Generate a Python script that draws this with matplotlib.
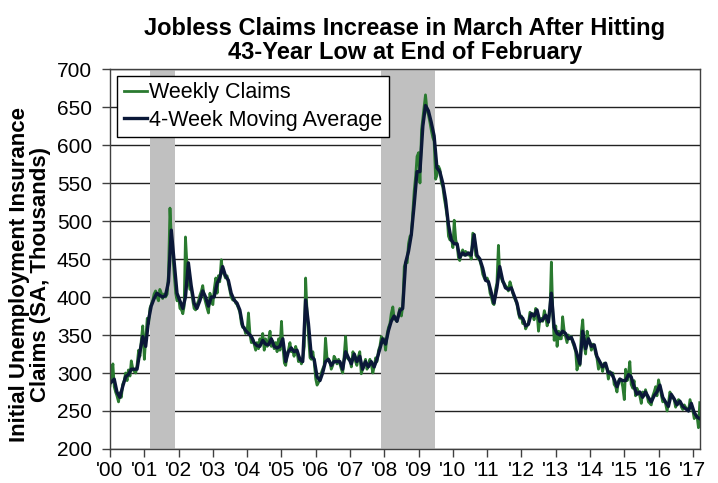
import pandas as pd
import matplotlib
matplotlib.use('Agg')
import matplotlib.pyplot as plt
import matplotlib.dates as mdates

# weekly initial claims (SA, thousands) (1st, 15th)
weekly_claims = [
    283, 298, 312, 282, 275, 270, 262, 274, 268, 285, 290, 300, 290, 304, 296, 316, 305, 302, 300, 310, 330, 322, 345, 362,  # 2000
    318, 345, 372, 365, 385, 390, 396, 404, 408, 400, 395, 410, 405, 398, 404, 400, 404, 430, 517, 480, 455, 430, 405, 395,  # 2001
    400, 385, 383, 378, 388, 479, 440, 425, 410, 412, 395, 385, 383, 390, 395, 402, 408, 415, 400, 393, 385, 379, 405, 395,  # 2002
    390, 410, 425, 405, 428, 420, 449, 432, 430, 425, 428, 418, 408, 400, 396, 398, 392, 390, 385, 380, 365, 360, 360, 352,  # 2003
    355, 379, 350, 340, 345, 338, 330, 340, 332, 345, 340, 352, 330, 345, 335, 342, 355, 335, 342, 332, 340, 328, 345, 330,  # 2004
    368, 335, 313, 310, 325, 330, 340, 328, 330, 322, 335, 328, 315, 320, 312, 318, 335, 425, 378, 350, 320, 318, 328, 315,  # 2005
    292, 284, 288, 292, 300, 305, 310, 346, 320, 318, 315, 305, 310, 322, 318, 312, 318, 312, 305, 300, 325, 348, 320, 318,  # 2006
    318, 308, 328, 322, 315, 310, 322, 328, 299, 305, 312, 318, 305, 310, 318, 312, 300, 308, 320, 315, 330, 335, 348, 340,  # 2007
    345, 330, 352, 360, 365, 378, 387, 372, 370, 368, 378, 385, 375, 387, 440, 445, 445, 470, 480, 482, 515, 540, 560, 585,  # 2008
    590, 550, 620, 635, 650, 666, 645, 640, 630, 620, 610, 605, 555, 560, 572, 568, 550, 545, 530, 520, 505, 480, 475, 478,  # 2009
    465, 501, 475, 468, 452, 448, 457, 462, 455, 460, 458, 455, 458, 450, 484, 482, 455, 452, 450, 448, 440, 430, 425, 422,  # 2010
    425, 420, 405, 400, 392, 390, 410, 418, 468, 430, 425, 420, 418, 415, 412, 408, 420, 414, 405, 400, 395, 390, 378, 372,  # 2011
    375, 365, 368, 358, 362, 365, 380, 378, 378, 370, 385, 380, 355, 370, 372, 368, 382, 375, 362, 370, 385, 446, 375, 343,  # 2012
    362, 335, 355, 345, 345, 374, 355, 348, 340, 350, 345, 348, 340, 335, 328, 304, 315, 310, 355, 370, 335, 325, 355, 345,  # 2013
    340, 330, 338, 335, 325, 320, 305, 312, 310, 302, 313, 310, 305, 292, 302, 298, 300, 285, 282, 275, 290, 292, 290, 282,  # 2014
    265, 305, 290, 300, 315, 285, 280, 290, 270, 280, 275, 270, 260, 275, 270, 278, 270, 262, 260, 258, 270, 275, 282, 270,  # 2015
    291, 282, 270, 262, 265, 260, 250, 260, 275, 270, 268, 265, 255, 262, 265, 262, 255, 252, 258, 255, 252, 250, 265, 258,  # 2016
    250, 240, 245, 242, 228, 261,                                                                                          # 2017
]

# 4-week moving average, one reading per month (mid-month)
moving_avg = [
    288, 292, 275, 268, 282, 295, 298, 305, 305, 305, 328, 348,  # 2000
    335, 370, 388, 398, 405, 402, 400, 402, 420, 488, 445, 405,  # 2001
    395, 385, 400, 445, 415, 392, 385, 395, 408, 400, 388, 400,  # 2002
    400, 418, 425, 440, 428, 422, 405, 396, 392, 383, 362, 356,  # 2003
    352, 348, 340, 336, 335, 343, 338, 337, 345, 335, 333, 335,  # 2004
    345, 315, 328, 333, 328, 330, 318, 315, 396, 365, 322, 318,  # 2005
    295, 290, 300, 315, 318, 310, 315, 315, 315, 305, 328, 320,  # 2006
    312, 325, 315, 322, 305, 315, 308, 315, 308, 318, 332, 345,  # 2007
    338, 356, 368, 375, 368, 382, 385, 445, 460, 482, 522, 565,  # 2008
    565, 625, 652, 645, 630, 612, 570, 565, 550, 528, 495, 475,  # 2009
    470, 470, 452, 458, 455, 458, 455, 482, 455, 450, 438, 422,  # 2010
    420, 405, 392, 412, 440, 422, 412, 410, 412, 402, 392, 375,  # 2011
    372, 362, 364, 378, 375, 383, 368, 370, 376, 367, 405, 360,  # 2012
    352, 350, 355, 352, 345, 347, 338, 325, 312, 355, 332, 345,  # 2013
    335, 337, 322, 315, 308, 313, 300, 300, 292, 282, 292, 290,  # 2014
    290, 298, 295, 282, 272, 275, 268, 275, 268, 262, 270, 275,  # 2015
    284, 268, 262, 256, 272, 266, 258, 263, 256, 253, 250, 260,  # 2016
    248, 242, 240,                                               # 2017
]

# recession shading (NBER)
recession_start = ['2001-03-01', '2007-12-01']
recession_end = ['2001-11-25', '2009-06-25']

y_ticks = list(range(200, 701, 50))

plt.rcParams['font.family'] = ['Liberation Sans', 'DejaVu Sans']

weekly_dates = pd.date_range('2000-01-01', periods=len(weekly_claims), freq='SMS')
ma_dates = pd.date_range('2000-01-01', periods=len(moving_avg), freq='MS') + pd.Timedelta(days=14)

fig = plt.figure(figsize=(7.18, 4.83), dpi=100)
ax = fig.add_axes([0.1532, 0.0704, 0.8218, 0.7867])

for s, e in zip(recession_start, recession_end):
    ax.axvspan(pd.Timestamp(s), pd.Timestamp(e), color='#c0c0c0', lw=0, zorder=1)

ax.plot(weekly_dates, weekly_claims, color='#2a7a30', lw=2.0, zorder=3, label='Weekly Claims')
ax.plot(ma_dates, moving_avg, color='#0b1838', lw=2.4, zorder=4, label='4-Week Moving Average')

ax.set_ylim(200, 700)
ax.set_yticks(y_ticks)
ax.set_xlim(pd.Timestamp('2000-01-01'), pd.Timestamp('2017-03-18'))
ax.xaxis.set_major_locator(mdates.YearLocator())
ax.xaxis.set_major_formatter(mdates.DateFormatter("'%y"))

ax.set_axisbelow(True)
ax.yaxis.grid(True, color='#222222', lw=1.0, zorder=0)
for sp in ax.spines.values():
    sp.set_color('#404040')
    sp.set_linewidth(1.0)
    sp.set_zorder(5)

ax.tick_params(axis='both', labelsize=15, direction='out', length=6, width=1, color='#404040')
ax.tick_params(axis='y', pad=7)
ax.tick_params(axis='x', pad=3)

ax.set_title('Jobless Claims Increase in March After Hitting\n43-Year Low at End of February',
             fontsize=17, fontweight='bold', pad=7, linespacing=1.05)
ax.set_ylabel('Initial Unemployment Insurance\nClaims (SA, Thousands)', fontsize=16,
              fontweight='bold', linespacing=1.0)
ax.yaxis.set_label_coords(-0.100, 0.46)

leg = ax.legend(loc='upper left', bbox_to_anchor=(0.012, 0.982), fontsize=15.5, frameon=True,
                fancybox=False, handlelength=1.1, handletextpad=0.1, borderpad=0.3,
                labelspacing=0.3, borderaxespad=0)
leg.get_frame().set_edgecolor('black')
leg.get_frame().set_linewidth(1.0)
leg.get_frame().set_alpha(1)
leg.set_zorder(6)

plt.savefig('out.png', dpi=100)
